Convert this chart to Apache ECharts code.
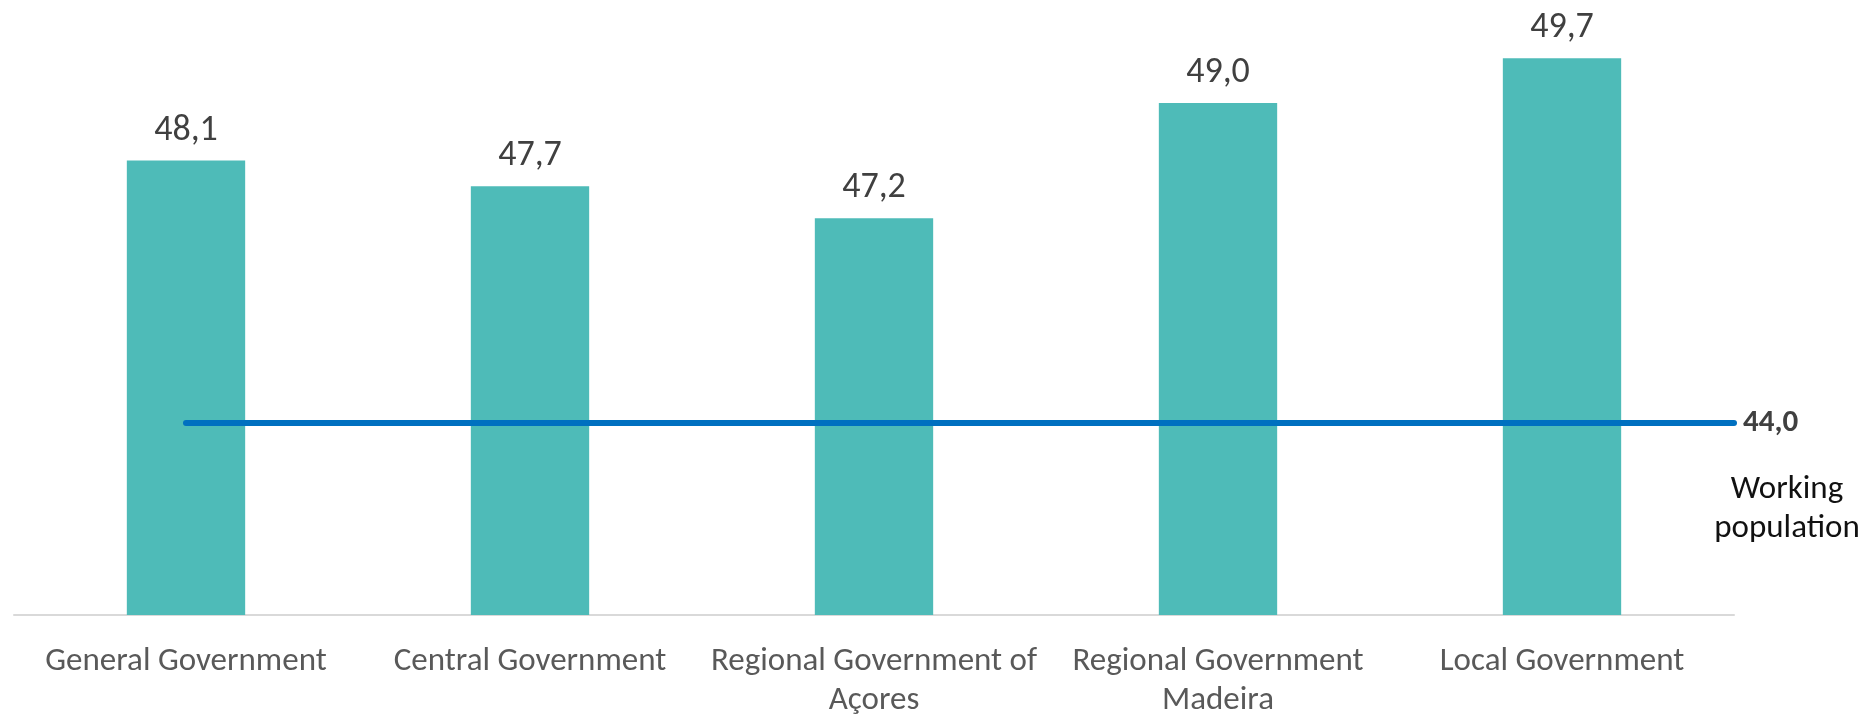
<!DOCTYPE html>
<html>
<head>
<meta charset="utf-8">
<script src="https://cdn.jsdelivr.net/npm/echarts@6/dist/echarts.min.js"></script>
<style>
    html, body { margin: 0; padding: 0; background: #fff; }
    #chart { width: 1865px; height: 714px; }
</style>
</head>
<body>
<div id="chart"></div>
<script>
    // 数据
    var categories = ['General Government', 'Central Government', 'Regional Government of\nAçores', 'Regional Government\nMadeira', 'Local Government'];
    var averageAge = [48.1, 47.7, 47.2, 49.0, 49.7];
    var workingPopulation = 44.0;
    var workingLabel = 'Working\npopulation';

    var FONT = "Calibri, Carlito, 'Open Sans', sans-serif";

    function fmt(v) {
        return v.toFixed(1).replace('.', ',');
    }

    // 横线从第一个类目中心延伸到轴尾
    function refLine() {
        return [[0.5, workingPopulation], [categories.length, workingPopulation]];
    }

    var chart = echarts.init(document.getElementById('chart'));

    chart.setOption({
        animation: false,
        grid: { left: 14, right: 131, top: 39, bottom: 99, outerBoundsMode: 'none', containLabel: false },
        xAxis: [{
            type: 'category',
            data: categories,
            axisLine: { lineStyle: { color: '#d9d9d9', width: 2 } },
            axisTick: { show: false },
            axisLabel: {
                color: '#595959',
                fontFamily: FONT,
                fontSize: 33,
                lineHeight: 39,
                margin: 27,
                interval: 0
            }
        }, {
            type: 'value',
            min: 0,
            max: categories.length,
            show: false
        }],
        yAxis: {
            type: 'value',
            min: 41,
            max: 50,
            show: false,
            splitLine: { show: false }
        },
        series: [{
            type: 'bar',
            data: averageAge,
            barWidth: '34.4%',
            itemStyle: { color: '#4EBBB8' },
            label: {
                show: true,
                position: 'top',
                distance: 12,
                color: '#404040',
                fontFamily: FONT,
                fontSize: 36,
                formatter: function (p) { return fmt(p.value); }
            }
        }, {
            type: 'line',
            xAxisIndex: 1,
            data: refLine(),
            symbol: 'none',
            lineStyle: { color: '#0070C0', width: 6, cap: 'round' },
            endLabel: {
                show: true,
                distance: 9,
                color: '#404040',
                fontFamily: FONT,
                fontWeight: 'bold',
                fontSize: 31,
                formatter: function () { return fmt(workingPopulation); }
            }
        }],
        graphic: [{
            type: 'text',
            x: 1787,
            y: 470,
            style: {
                text: workingLabel,
                fill: '#111',
                font: "33px " + FONT,
                align: 'center',
                verticalAlign: 'top',
                lineHeight: 39
            }
        }]
    });
</script>
</body>
</html>
